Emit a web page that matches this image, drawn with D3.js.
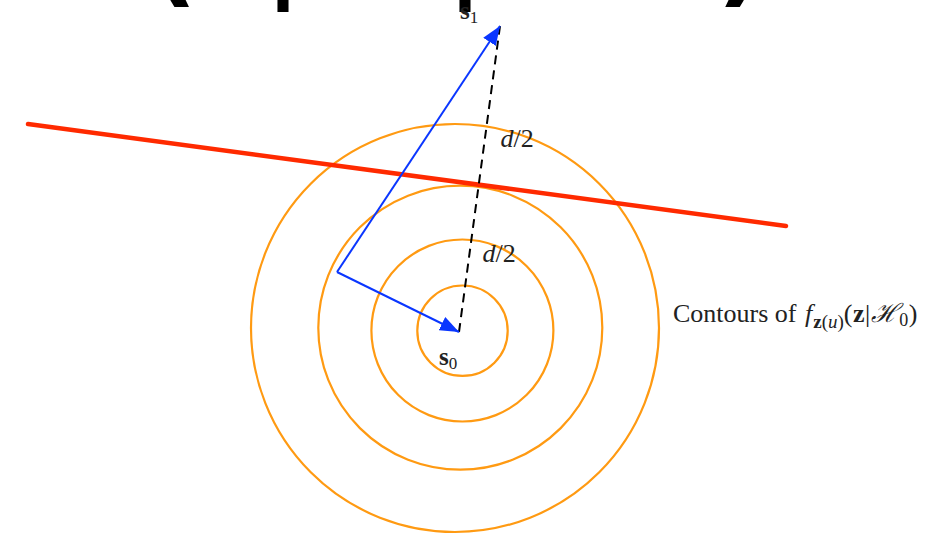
<!DOCTYPE html>
<html>
<head>
<meta charset="utf-8">
<script src="https://cdn.jsdelivr.net/npm/d3@7/dist/d3.min.js"></script>
<style>
  html, body { margin: 0; padding: 0; background: #fff; }
  svg { display: block; }
</style>
</head>
<body>
<svg id="fig" width="930" height="534"></svg>
<script>
// Signal points in the plane (s0 is the origin)
const pointNames = ["s0", "s1", "via"];
const pointX = [0, 0.41, -1.22];
const pointY = [0, 3.06, 0.60];

// Contour circles of the density under H0: centres and radii
const contourCx = [0.035, 0.034, 0.013, -0.04];
const contourCy = [0.013, 0.015, 0.043, 0.04];
const contourR  = [0.452, 0.91, 1.42, 2.04];

// Decision boundary (perpendicular bisector of s0–s1)
const boundaryX = [-4.31, 3.27];
const boundaryY = [2.08, 1.06];

// Heading glyphs
const headGlyphs = ["(", "|", "|", ")"];

const W = 930, H = 534;
const svg = d3.select("#fig");

const x = d3.scaleLinear().domain([-5, 5]).range([459 - 500, 459 + 500]);
const y = d3.scaleLinear().domain([-5, 5]).range([332 + 500, 332 - 500]);
const rpx = r => x(r) - x(0);

const P = i => [x(pointX[i]), y(pointY[i])];

// arrow head
const defs = svg.append("defs");
defs.append("marker")
  .attr("id", "head")
  .attr("markerUnits", "userSpaceOnUse")
  .attr("viewBox", "0 -8 20 16")
  .attr("markerWidth", 20).attr("markerHeight", 16)
  .attr("refX", 19).attr("refY", 0)
  .attr("orient", "auto")
  .append("path")
  .attr("d", "M0,-7.5L19,0L0,7.5Z")
  .attr("fill", "#0a36ff");

// heading (large, partly above the page edge)
const headPos = [174, 283, 465, 740];
svg.append("g").selectAll("text").data(headGlyphs).join("text")
  .attr("x", (d, i) => headPos[i])
  .attr("y", (d, i) => (d === "|" ? -12 : -6))
  .attr("text-anchor", "middle")
  .attr("font-family", "DejaVu Sans")
  .attr("font-weight", "bold")
  .attr("font-size", 100)
  .attr("fill", "#000")
  .text(d => d);

// contours
svg.append("g").selectAll("circle").data(contourR).join("circle")
  .attr("cx", (d, i) => x(contourCx[i]))
  .attr("cy", (d, i) => y(contourCy[i]))
  .attr("r", d => rpx(d))
  .attr("fill", "none")
  .attr("stroke", "#ff9a12")
  .attr("stroke-width", 2.2);

// decision boundary
svg.append("line")
  .attr("x1", x(boundaryX[0])).attr("y1", y(boundaryY[0]))
  .attr("x2", x(boundaryX[1])).attr("y2", y(boundaryY[1]))
  .attr("stroke", "#ff2a00")
  .attr("stroke-width", 4.5)
  .attr("stroke-linecap", "round");

// distance s0 -> s1
const s0 = P(0), s1 = P(1), via = P(2);
svg.append("line")
  .attr("x1", s0[0]).attr("y1", s0[1])
  .attr("x2", s1[0]).attr("y2", s1[1])
  .attr("stroke", "#000")
  .attr("stroke-width", 2)
  .attr("stroke-dasharray", "9,6");

// received vectors
[[via, s1], [via, s0]].forEach(([a, b]) => {
  svg.append("line")
    .attr("x1", a[0]).attr("y1", a[1])
    .attr("x2", b[0]).attr("y2", b[1])
    .attr("stroke", "#0a36ff")
    .attr("stroke-width", 2)
    .attr("marker-end", "url(#head)");
});

const serif = "Liberation Serif";
const ink = "#222";

// d/2 labels along the dashed segment
const half = (a, b) => [(a[0] + b[0]) / 2, (a[1] + b[1]) / 2];
const mid = half(s0, s1);
function halfLabel(px, py) {
  const t = svg.append("text")
    .attr("x", px).attr("y", py)
    .attr("font-family", serif).attr("font-size", 26).attr("fill", ink);
  t.append("tspan").attr("font-style", "italic").text("d");
  t.append("tspan").text("/2");
}
halfLabel(mid[0] + 21, mid[1] - 32);
halfLabel(mid[0] + 3, mid[1] + 83);

// point labels
function pointLabel(px, py, sub) {
  const t = svg.append("text")
    .attr("x", px).attr("y", py)
    .attr("font-family", serif).attr("font-size", 25).attr("fill", ink);
  t.append("tspan").attr("font-weight", "bold").text("s");
  t.append("tspan").attr("font-size", 17).attr("dy", 4).text(sub);
}
pointLabel(s1[0] - 40, s1[1] - 7, "1");
pointLabel(s0[0] - 20, s0[1] + 33, "0");

// contour caption
{
  const t = svg.append("text")
    .attr("x", 673).attr("y", 322)
    .attr("font-family", serif).attr("font-size", 26).attr("fill", ink);
  t.append("tspan").text("Contours of ");
  t.append("tspan").attr("font-style", "italic").attr("dx", 2).text("f");
  const sub = t.append("tspan").attr("dy", 6).attr("dx", 1).attr("font-size", 19);
  sub.append("tspan").attr("font-weight", "bold").text("z");
  sub.append("tspan").text("(");
  sub.append("tspan").attr("font-style", "italic").text("u");
  sub.append("tspan").text(")");
  const arg = t.append("tspan").attr("dy", -6).attr("letter-spacing", 0.5);
  arg.append("tspan").text("(");
  arg.append("tspan").attr("font-weight", "bold").text("z");
  arg.append("tspan").text("|");
  arg.append("tspan").attr("font-style", "italic").text("\u210B");
  arg.append("tspan").attr("font-size", 18).attr("dy", 4).text("0");
  arg.append("tspan").attr("dy", -4).text(")");
}
</script>
</body>
</html>
